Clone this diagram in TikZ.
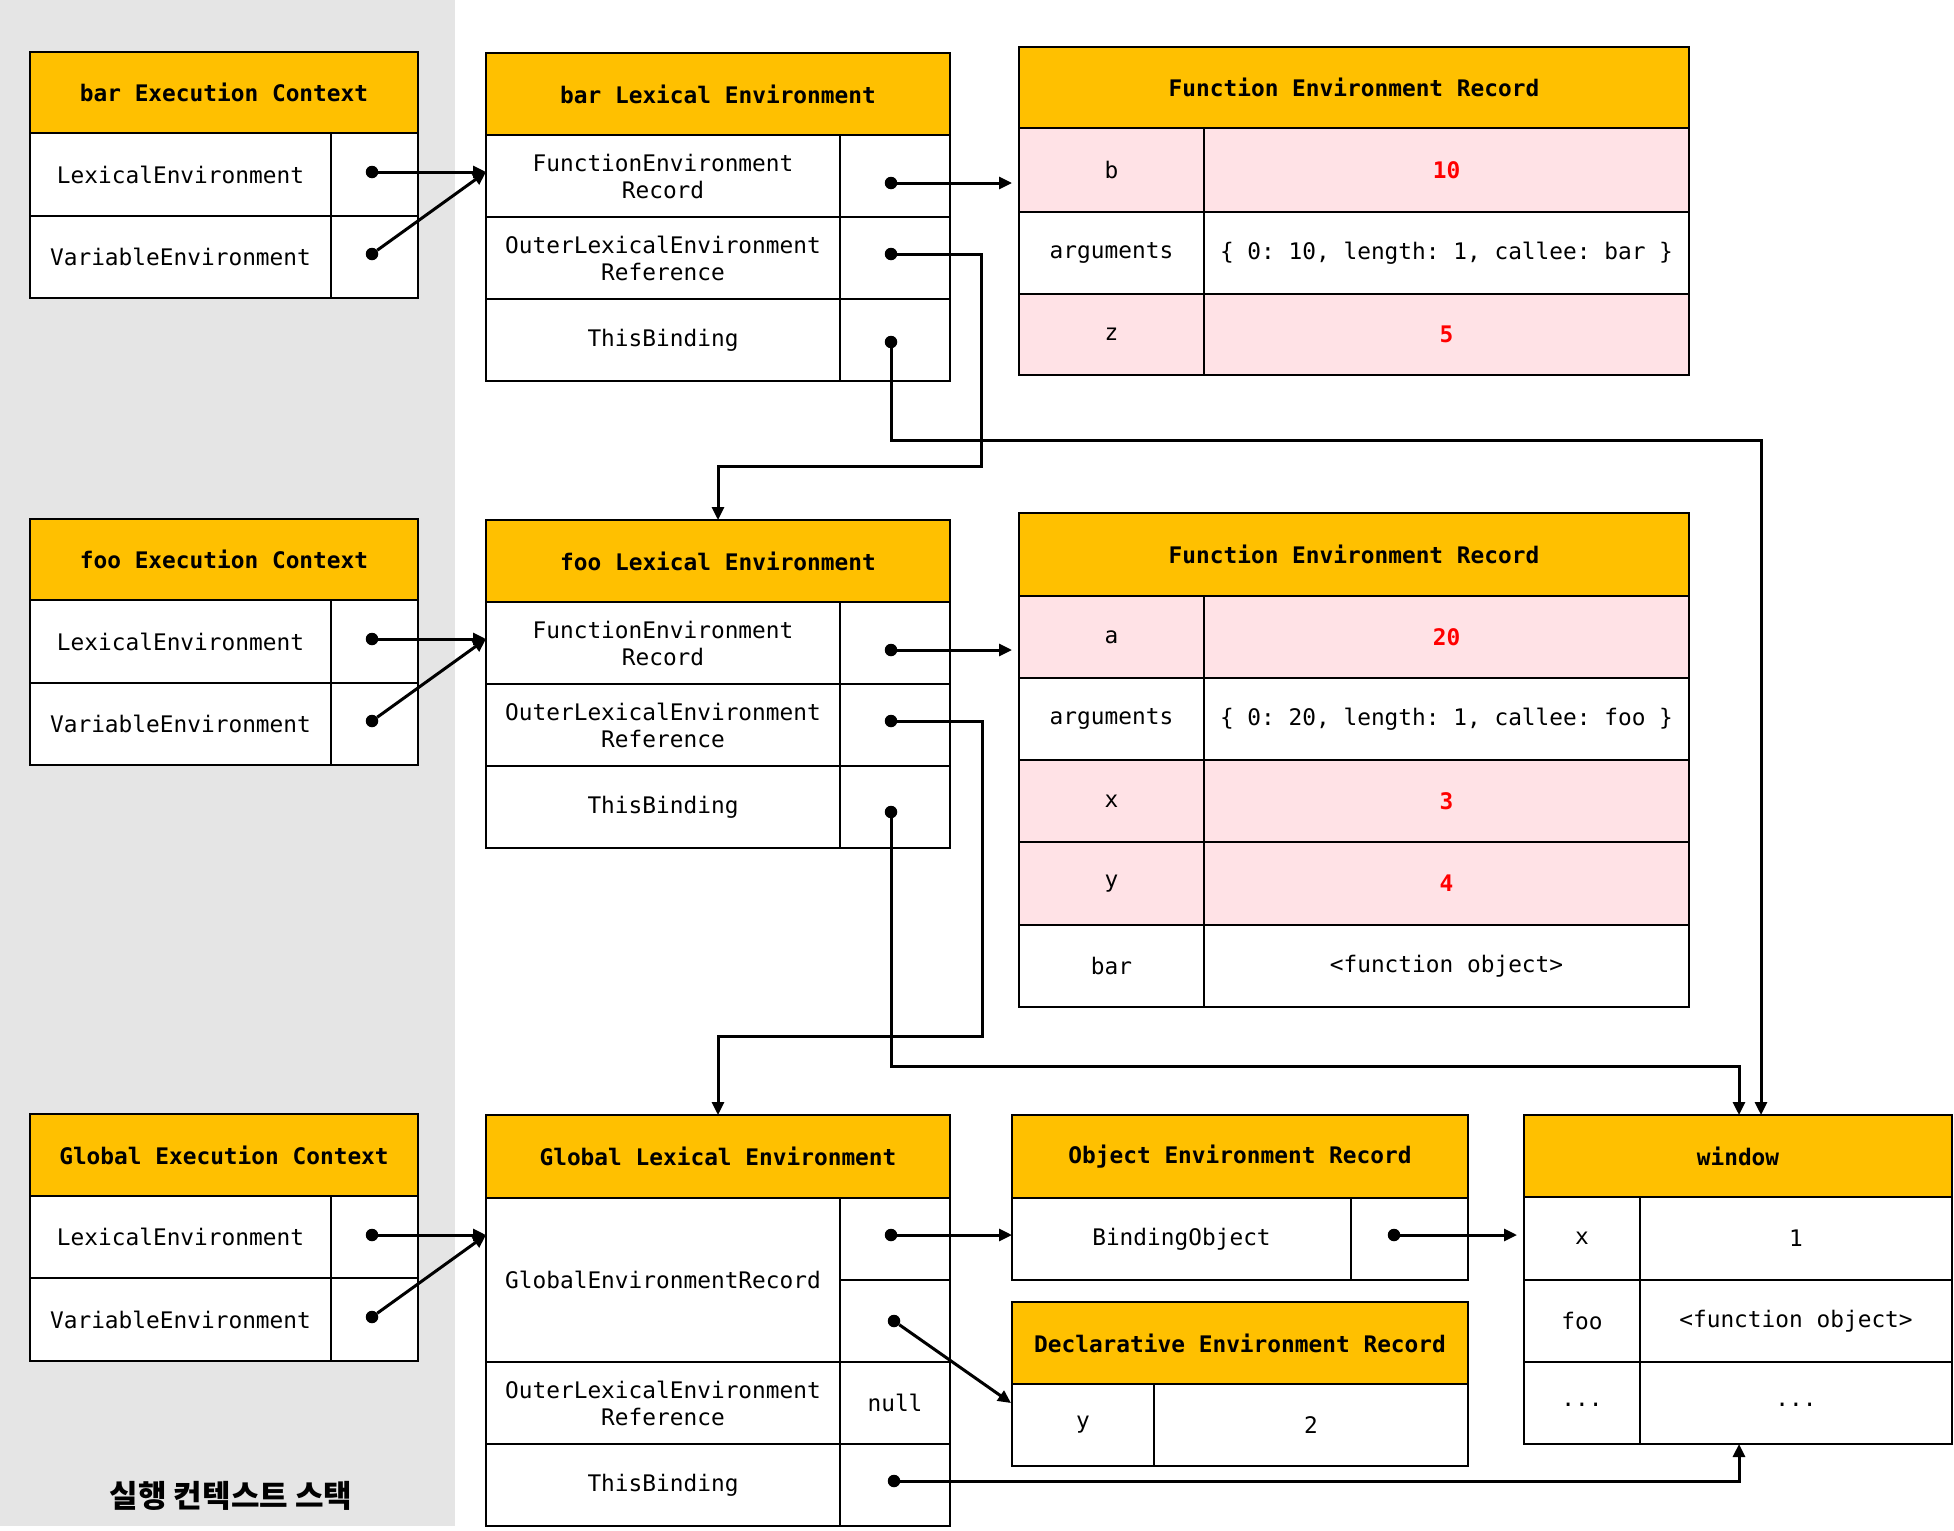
\documentclass[tikz,border=0pt]{standalone}
\usepackage{fontspec}
\setmonofont{DejaVu Sans Mono}
\newfontfamily\krfont{Noto Sans CJK KR}
\usetikzlibrary{arrows.meta}

\definecolor{hdr}{RGB}{255,192,0}
\definecolor{pinkrow}{RGB}{255,226,230}
\definecolor{panel}{RGB}{229,229,229}

\tikzset{
  cellbox/.style={draw, line width=2.2pt, inner sep=0pt, outer sep=0pt, fill=white,
    align=center, font=\ttfamily\fontsize{22.8}{27}\selectfont},
  headbox/.style={cellbox, fill=hdr, font=\ttfamily\bfseries\fontsize{22.8}{27}\selectfont},
  pinkbox/.style={cellbox, fill=pinkrow},
  redval/.style={pinkbox, text=red, font=\ttfamily\bfseries\fontsize{22.8}{27}\selectfont},
  dotnode/.style={circle, fill=black, inner sep=0pt, minimum size=12.5pt},
  conn/.style={line width=3pt, -{Triangle[length=13pt,width=12pt]}},
}

% \tcell{name}{x1}{y1}{x2}{y2}{style}{text}
\newcommand\tcell[7]{%
  \pgfmathsetmacro\cw{#4-#2}\pgfmathsetmacro\ch{#5-#3}%
  \node[#6, minimum width=\cw pt, minimum height=\ch pt] (#1) at ({(#2+#4)/2},{(#3+#5)/2}) {#7};}

\begin{document}
\begin{tikzpicture}[x=1pt,y=-1pt]
\useasboundingbox (0,0) rectangle (1954,1531);
\fill[panel] (0,0) rectangle (455,1526);

% ---------- execution contexts ----------
\tcell{barEC}{30}{52}{418}{133}{headbox}{bar Execution Context}
\tcell{barECk1}{30}{133}{331}{216}{cellbox}{LexicalEnvironment}
\tcell{barECv1}{331}{133}{418}{216}{cellbox}{}
\tcell{barECk2}{30}{216}{331}{298}{cellbox}{VariableEnvironment}
\tcell{barECv2}{331}{216}{418}{298}{cellbox}{}

\tcell{fooEC}{30}{519}{418}{600}{headbox}{foo Execution Context}
\tcell{fooECk1}{30}{600}{331}{683}{cellbox}{LexicalEnvironment}
\tcell{fooECv1}{331}{600}{418}{683}{cellbox}{}
\tcell{fooECk2}{30}{683}{331}{765}{cellbox}{VariableEnvironment}
\tcell{fooECv2}{331}{683}{418}{765}{cellbox}{}

\tcell{gEC}{30}{1114}{418}{1196}{headbox}{Global Execution Context}
\tcell{gECk1}{30}{1196}{331}{1278}{cellbox}{LexicalEnvironment}
\tcell{gECv1}{331}{1196}{418}{1278}{cellbox}{}
\tcell{gECk2}{30}{1278}{331}{1361}{cellbox}{VariableEnvironment}
\tcell{gECv2}{331}{1278}{418}{1361}{cellbox}{}

\node[font=\krfont\bfseries\fontsize{31}{34}\selectfont] (stacklabel) at (231,1496) {실행 컨텍스트 스택};

% ---------- lexical environments ----------
\tcell{barLE}{486}{53}{950}{135}{headbox}{bar Lexical Environment}
\tcell{barLEk1}{486}{135}{840}{217}{cellbox}{FunctionEnvironment\\Record}
\tcell{barLEv1}{840}{135}{950}{217}{cellbox}{}
\tcell{barLEk2}{486}{217}{840}{299}{cellbox}{OuterLexicalEnvironment\\Reference}
\tcell{barLEv2}{840}{217}{950}{299}{cellbox}{}
\tcell{barLEk3}{486}{299}{840}{381}{cellbox}{ThisBinding}
\tcell{barLEv3}{840}{299}{950}{381}{cellbox}{}

\tcell{fooLE}{486}{520}{950}{602}{headbox}{foo Lexical Environment}
\tcell{fooLEk1}{486}{602}{840}{684}{cellbox}{FunctionEnvironment\\Record}
\tcell{fooLEv1}{840}{602}{950}{684}{cellbox}{}
\tcell{fooLEk2}{486}{684}{840}{766}{cellbox}{OuterLexicalEnvironment\\Reference}
\tcell{fooLEv2}{840}{684}{950}{766}{cellbox}{}
\tcell{fooLEk3}{486}{766}{840}{848}{cellbox}{ThisBinding}
\tcell{fooLEv3}{840}{766}{950}{848}{cellbox}{}

\tcell{gLE}{486}{1115}{950}{1198}{headbox}{Global Lexical Environment}
\tcell{gLEk1}{486}{1198}{840}{1362}{cellbox}{GlobalEnvironmentRecord}
\tcell{gLEv1a}{840}{1198}{950}{1280}{cellbox}{}
\tcell{gLEv1b}{840}{1280}{950}{1362}{cellbox}{}
\tcell{gLEk2}{486}{1362}{840}{1444}{cellbox}{OuterLexicalEnvironment\\Reference}
\tcell{gLEv2}{840}{1362}{950}{1444}{cellbox}{null}
\tcell{gLEk3}{486}{1444}{840}{1526}{cellbox}{ThisBinding}
\tcell{gLEv3}{840}{1444}{950}{1526}{cellbox}{}

% ---------- environment records ----------
\tcell{barFER}{1019}{47}{1689}{128}{headbox}{Function Environment Record}
\tcell{barFERk1}{1019}{128}{1204}{212}{pinkbox}{b}
\tcell{barFERv1}{1204}{128}{1689}{212}{redval}{10}
\tcell{barFERk2}{1019}{212}{1204}{294}{cellbox}{arguments}
\tcell{barFERv2}{1204}{212}{1689}{294}{cellbox}{\{ 0: 10, length: 1, callee: bar \}}
\tcell{barFERk3}{1019}{294}{1204}{375}{pinkbox}{z}
\tcell{barFERv3}{1204}{294}{1689}{375}{redval}{5}

\tcell{fooFER}{1019}{513}{1689}{596}{headbox}{Function Environment Record}
\tcell{fooFERk1}{1019}{596}{1204}{678}{pinkbox}{a}
\tcell{fooFERv1}{1204}{596}{1689}{678}{redval}{20}
\tcell{fooFERk2}{1019}{678}{1204}{760}{cellbox}{arguments}
\tcell{fooFERv2}{1204}{678}{1689}{760}{cellbox}{\{ 0: 20, length: 1, callee: foo \}}
\tcell{fooFERk3}{1019}{760}{1204}{842}{pinkbox}{x}
\tcell{fooFERv3}{1204}{760}{1689}{842}{redval}{3}
\tcell{fooFERk4}{1019}{842}{1204}{925}{pinkbox}{y}
\tcell{fooFERv4}{1204}{842}{1689}{925}{redval}{4}
\tcell{fooFERk5}{1019}{925}{1204}{1007}{cellbox}{bar}
\tcell{fooFERv5}{1204}{925}{1689}{1007}{cellbox}{<function object>}

\tcell{oer}{1012}{1115}{1468}{1198}{headbox}{Object Environment Record}
\tcell{oerk}{1012}{1198}{1351}{1280}{cellbox}{BindingObject}
\tcell{oerv}{1351}{1198}{1468}{1280}{cellbox}{}

\tcell{der}{1012}{1302}{1468}{1384}{headbox}{Declarative Environment Record}
\tcell{derk}{1012}{1384}{1154}{1466}{cellbox}{y}
\tcell{derv}{1154}{1384}{1468}{1466}{cellbox}{2}

\tcell{win}{1524}{1115}{1952}{1197}{headbox}{window}
\tcell{wink1}{1524}{1197}{1640}{1280}{cellbox}{x}
\tcell{winv1}{1640}{1197}{1952}{1280}{cellbox}{1}
\tcell{wink2}{1524}{1280}{1640}{1362}{cellbox}{foo}
\tcell{winv2}{1640}{1280}{1952}{1362}{cellbox}{<function object>}
\tcell{wink3}{1524}{1362}{1640}{1444}{cellbox}{\raisebox{-6pt}{...}}
\tcell{winv3}{1640}{1362}{1952}{1444}{cellbox}{\raisebox{-6pt}{...}}

% ---------- reference dots ----------
\node[dotnode] (barECd1) at (372,172) {};
\node[dotnode] (barECd2) at (372,254) {};
\node[dotnode] (fooECd1) at (372,639) {};
\node[dotnode] (fooECd2) at (372,721) {};
\node[dotnode] (gECd1) at (372,1235) {};
\node[dotnode] (gECd2) at (372,1317) {};
\node[dotnode] (barLEd1) at (891,183) {};
\node[dotnode] (barLEd2) at (891,254) {};
\node[dotnode] (barLEd3) at (891,342) {};
\node[dotnode] (fooLEd1) at (891,650) {};
\node[dotnode] (fooLEd2) at (891,721) {};
\node[dotnode] (fooLEd3) at (891,812) {};
\node[dotnode] (gLEd1) at (891,1235) {};
\node[dotnode] (gLEd2) at (894,1321) {};
\node[dotnode] (gLEd3) at (894,1481) {};
\node[dotnode] (oerd) at (1394,1235) {};

% ---------- connectors ----------
\draw[conn] (barECd1) -- (barECd1 -| barLEk1.west);
\draw[conn] (barECd2) -- (barECd1 -| barLEk1.west);
\draw[conn] (fooECd1) -- (fooECd1 -| fooLEk1.west);
\draw[conn] (fooECd2) -- (fooECd1 -| fooLEk1.west);
\draw[conn] (gECd1) -- (gECd1 -| gLEk1.west);
\draw[conn] (gECd2) -- (gECd1 -| gLEk1.west);

\draw[conn, shorten >=7pt] (barLEd1) -- (barLEd1 -| barFERk1.west);
\draw[conn, shorten >=7pt] (fooLEd1) -- (fooLEd1 -| fooFERk1.west);
\draw[conn] (gLEd1) -- (gLEd1 -| oerk.west);
\coordinate (dtip) at (1011,1403);
\draw[conn] (gLEd2) -- (dtip);
\draw[conn, shorten >=7pt] (oerd) -- (oerd -| wink1.west);

\coordinate (bend1) at (981,466);
\draw[conn] (barLEd2) -| (bend1) -| (fooLE.north);
\coordinate (bend2) at (1761,440);
\draw[conn] (barLEd3) |- (bend2) -- (bend2 |- win.north);
\coordinate (bend3) at (982,1036);
\draw[conn] (fooLEd2) -| (bend3) -| (gLE.north);
\coordinate (bend4) at (1739,1066);
\draw[conn] (fooLEd3) |- (bend4) -- (bend4 |- win.north);
\draw[conn] (gLEd3) -| (bend4 |- winv3.south);
\end{tikzpicture}
\end{document}
